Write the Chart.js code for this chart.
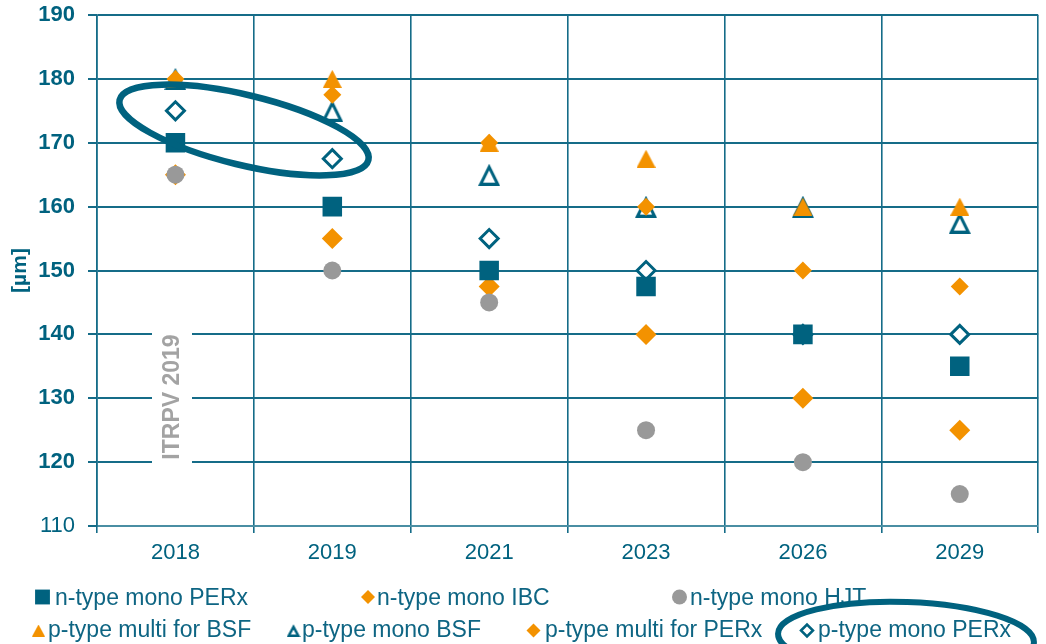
<!DOCTYPE html>
<html>
<head>
<meta charset="utf-8">
<title>Wafer thickness</title>
<script src="https://cdn.jsdelivr.net/npm/chart.js@4.4.0/dist/chart.umd.min.js"></script>
<style>
  html, body { margin: 0; padding: 0; background: #fff; overflow: hidden; }
  #wrap { position: relative; width: 1052px; height: 644px; }
</style>
</head>
<body>
<div id="wrap"><canvas id="thicknessChart"></canvas></div>
<script>
// Wafer thickness [µm] per year and cell type
const years = ['2018', '2019', '2021', '2023', '2026', '2029'];
const nMonoPerx    = [170, 160, 150, 147.5, 140, 135];
const nMonoIbc     = [165, 155, 147.5, 140, 130, 125];
const nMonoHjt     = [165, 150, 145, 125, 120, 115];
const pMultiBsf    = [180, 180, 170, 167.5, 160, 160];
const pMonoBsf     = [180, 175, 165, 160, 160, 157.5];
const pMultiPerx   = [180, 177.5, 170, 160, 150, 147.5];
const pMonoPerx    = [175, 167.5, 155, 150, 140, 140];
const seriesNames  = ['n-type mono PERx', 'n-type mono IBC', 'n-type mono HJT', 'p-type multi for BSF',
                      'p-type mono BSF', 'p-type multi for PERx', 'p-type mono PERx'];
const yTicks = { min: 110, max: 190, step: 10 };

const TEAL = '#00627f';
const ORANGE = '#f39200';
const GREY = '#999999';
const GRID = '#156c88';
const FONT = '"Liberation Sans", Arial, Helvetica, sans-serif';

Chart.defaults.font.family = FONT;

// isosceles triangle marker (Excel style, box centred on the value)
function triangleCanvas(w, h, fill, stroke, lw) {
  const c = document.createElement('canvas');
  c.width = w;
  c.height = h;
  const g = c.getContext('2d');
  const side = lw ? lw / 2 + 1 : 0;
  const top = lw ? lw * 1.15 : 0;
  g.beginPath();
  g.moveTo(w / 2, top);
  g.lineTo(w - side, h - (lw ? lw / 2 : 0));
  g.lineTo(side, h - (lw ? lw / 2 : 0));
  g.closePath();
  g.fillStyle = fill;
  g.fill();
  if (lw) {
    g.lineWidth = lw;
    g.strokeStyle = stroke;
    g.lineJoin = 'miter';
    g.stroke();
  }
  return c;
}

const triOrange = triangleCanvas(19, 18, ORANGE);
const triHollow = triangleCanvas(22, 22, '#ffffff', TEAL, 3);
const triOrangeSmall = triangleCanvas(13, 12, ORANGE);
const triHollowSmall = triangleCanvas(14, 13, '#ffffff', TEAL, 2.5);

function series(label, data, style, radius, fill, border, bw, order) {
  return {
    label: label,
    data: data,
    showLine: false,
    pointStyle: style,
    pointRadius: radius,
    pointHoverRadius: radius,
    pointBackgroundColor: fill,
    pointBorderColor: border,
    pointBorderWidth: bw,
    order: order
  };
}

const datasets = [
  series(seriesNames[0], nMonoPerx, 'rect', 13.8, TEAL, TEAL, 0, 1),
  series(seriesNames[1], nMonoIbc, 'rectRot', 10.5, ORANGE, ORANGE, 0, 3),
  series(seriesNames[2], nMonoHjt, 'circle', 9, GREY, GREY, 0, 2),
  series(seriesNames[3], pMultiBsf, triOrange, 9, ORANGE, ORANGE, 0, 4),
  series(seriesNames[4], pMonoBsf, triHollow, 11, '#fff', TEAL, 0, 6),
  series(seriesNames[5], pMultiPerx, 'rectRot', 9, ORANGE, ORANGE, 0, 5),
  series(seriesNames[6], pMonoPerx, 'rectRot', 9, '#ffffff', TEAL, 3, 7)
];

// legend slots: marker x, text x, row
const legendSlots = [
  { mx: 42.5, tx: 55, row: 0, r: 10.5 },
  { mx: 368, tx: 377, row: 0, r: 7 },
  { mx: 679.5, tx: 690, row: 0, r: 7.5 },
  { mx: 38.5, tx: 48, row: 1, img: triOrangeSmall },
  { mx: 293.5, tx: 302, row: 1, img: triHollowSmall },
  { mx: 533.5, tx: 545, row: 1, r: 7 },
  { mx: 807, tx: 818, row: 1, r: 6, bw: 2.5 }
];
const legendRows = [{ my: 597, ty: 605 }, { my: 630.5, ty: 637 }];

function drawEllipse(ctx, cx, cy, a, b, rot, lw) {
  ctx.save();
  ctx.beginPath();
  ctx.ellipse(cx, cy, a, b, rot, 0, Math.PI * 2);
  ctx.lineWidth = lw;
  ctx.strokeStyle = TEAL;
  ctx.stroke();
  ctx.restore();
}

const watermark = {
  id: 'watermark',
  beforeDatasetsDraw(chart) {
    const ctx = chart.ctx;
    ctx.save();
    ctx.fillStyle = '#ffffff';
    ctx.fillRect(152, 322, 40, 150);
    ctx.translate(172, 397);
    ctx.rotate(-Math.PI / 2);
    ctx.fillStyle = '#a3a3a3';
    ctx.font = 'bold 23px ' + FONT;
    ctx.textAlign = 'center';
    ctx.textBaseline = 'middle';
    ctx.fillText('ITRPV 2019', 0, 1);
    ctx.restore();
  }
};

const legendAndMarks = {
  id: 'legendAndMarks',
  afterDraw(chart) {
    const ctx = chart.ctx;
    const helpers = Chart.helpers;
    // legend
    ctx.save();
    ctx.font = '23px ' + FONT;
    ctx.textAlign = 'left';
    ctx.textBaseline = 'alphabetic';
    chart.data.datasets.forEach((ds, i) => {
      const slot = legendSlots[i];
      const row = legendRows[slot.row];
      if (slot.img) {
        ctx.drawImage(slot.img, slot.mx - slot.img.width / 2, row.my - slot.img.height / 2);
      } else {
        ctx.fillStyle = ds.pointBackgroundColor;
        ctx.strokeStyle = ds.pointBorderColor;
        ctx.lineWidth = slot.bw || 0;
        helpers.drawPoint(ctx, {
          pointStyle: ds.pointStyle,
          radius: slot.r,
          rotation: 0,
          borderWidth: slot.bw || 0
        }, slot.mx, row.my);
      }
      ctx.fillStyle = '#0e6583';
      ctx.fillText(ds.label, slot.tx, row.ty);
    });
    ctx.restore();

    // highlight rings
    drawEllipse(ctx, 244, 130, 128, 35, 13.6 * Math.PI / 180, 6.5);
    drawEllipse(ctx, 906, 638, 128, 36, 2 * Math.PI / 180, 6);
  }
};

new Chart(document.getElementById('thicknessChart'), {
  type: 'line',
  data: { labels: years, datasets: datasets },
  options: {
    responsive: true,
    maintainAspectRatio: false,
    animation: false,
    events: [],
    layout: { padding: { top: 15, right: 3, bottom: 0, left: 0 } },
    plugins: {
      legend: { display: false },
      tooltip: { enabled: false }
    },
    scales: {
      x: {
        offset: true,
        grid: { offset: true, color: GRID, lineWidth: 1.6, tickLength: 7 },
        border: { color: '#4a8ea3', width: 2 },
        ticks: { color: TEAL, font: { size: 22 }, padding: 7 },
        afterFit: (scale) => { scale.height = 118; }
      },
      y: {
        min: yTicks.min,
        max: yTicks.max,
        ticks: {
          stepSize: yTicks.step,
          color: TEAL,
          padding: 13,
          font: (c) => ({ size: 22, weight: (c.tick && c.tick.value === yTicks.min) ? 'normal' : 'bold' })
        },
        grid: { color: GRID, lineWidth: 2, tickLength: 9 },
        border: { color: GRID, width: 1.6 },
        title: {
          display: true,
          text: '[µm]',
          color: TEAL,
          font: { size: 21, weight: 'bold' },
          padding: { top: 8, bottom: 0 }
        },
        afterFit: (scale) => {
          scale.width = 97;
          scale.paddingTop = 0;
          scale.paddingBottom = 0;
        }
      }
    }
  },
  plugins: [watermark, legendAndMarks]
});
</script>
</body>
</html>
